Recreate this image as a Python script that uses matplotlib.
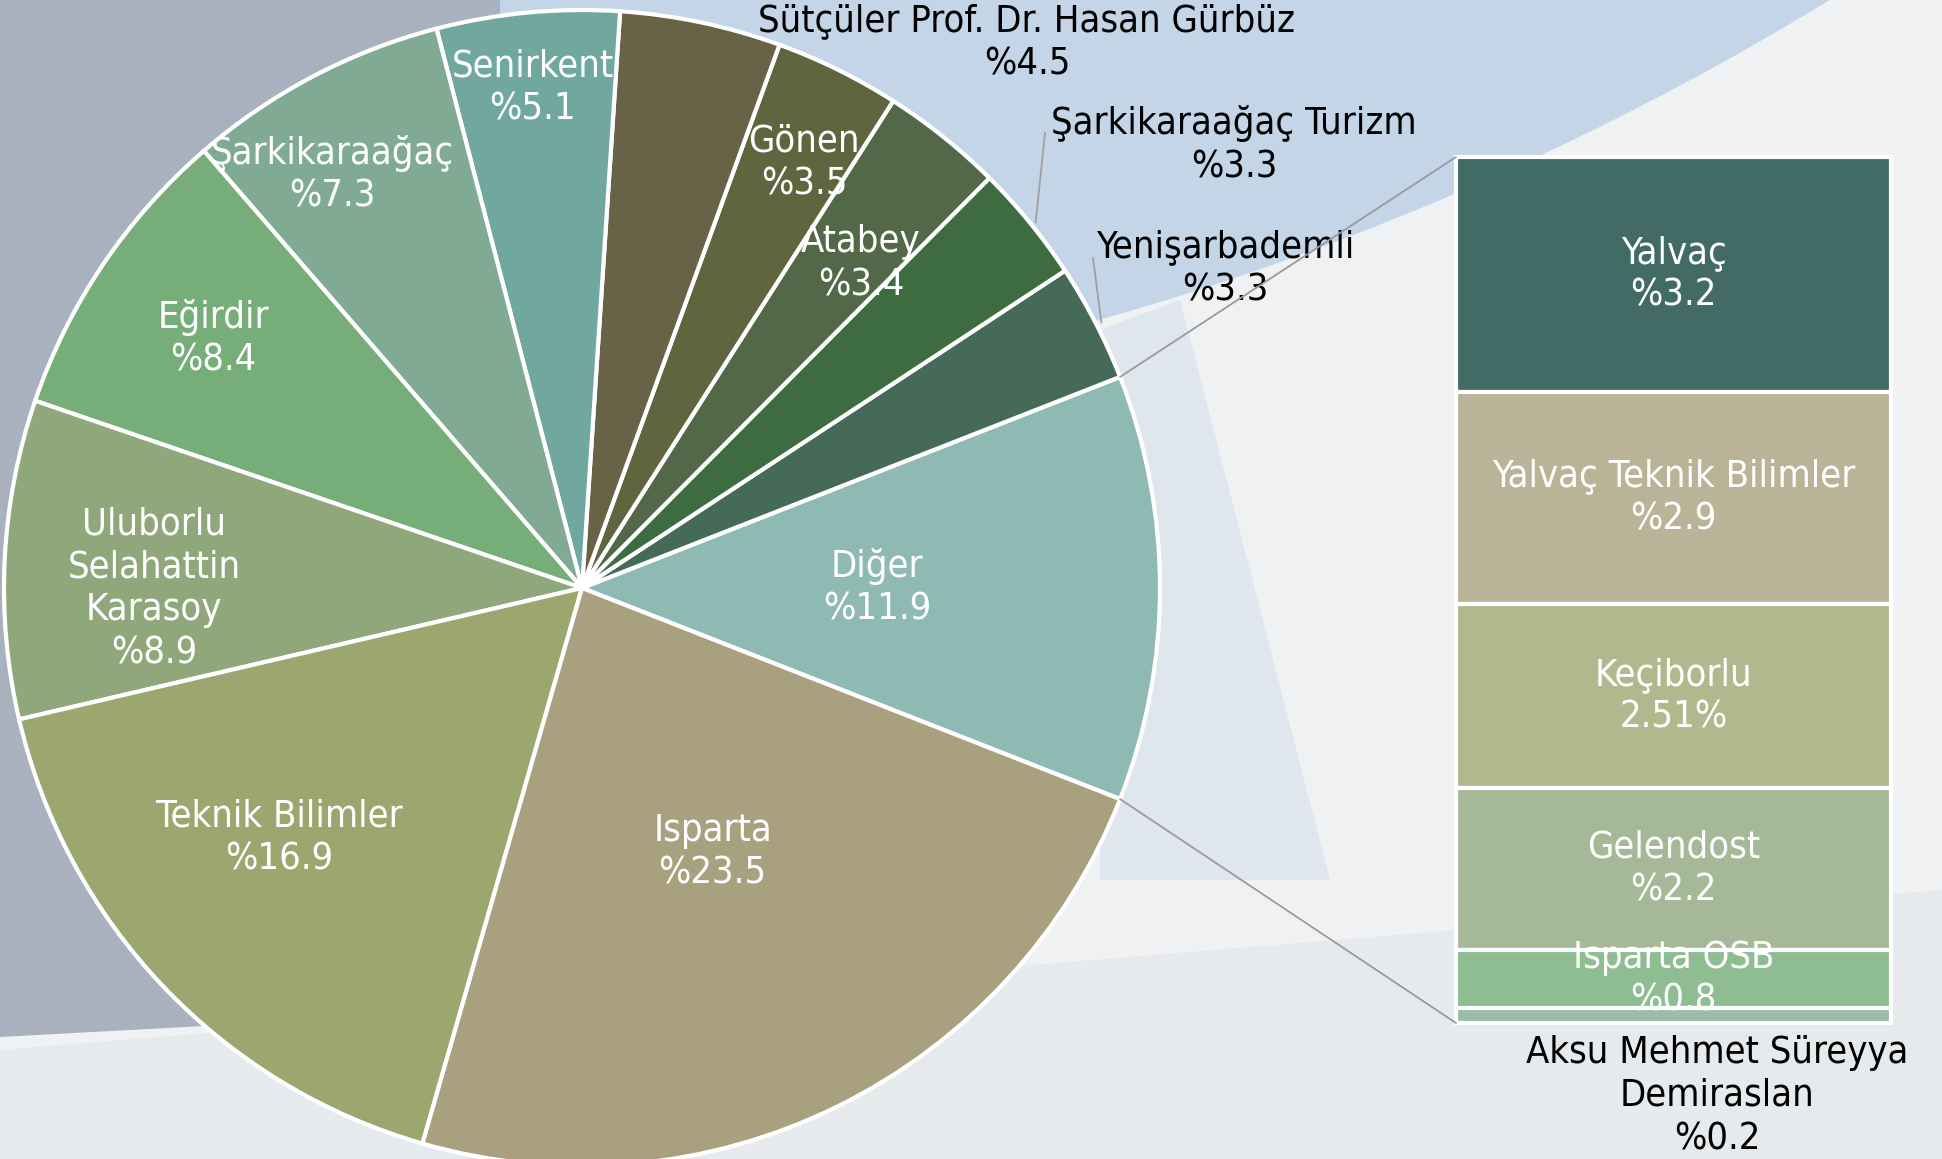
import numpy as np
import matplotlib.pyplot as plt
from matplotlib.patches import Circle, Polygon
from matplotlib.patches import ConnectionPatch

plt.rcParams['font.family'] = ['DejaVu Sans']
plt.rcParams['font.stretch'] = 'condensed'

# pie slices (the last one, "Diğer", is split out into the bar)
pie_names = ["Isparta", "Teknik Bilimler", "Uluborlu\nSelahattin\nKarasoy", "Eğirdir",
             "Şarkikaraağaç", "Senirkent", "Sütçüler Prof. Dr. Hasan Gürbüz", "Gönen",
             "Atabey", "Şarkikaraağaç Turizm", "Yenişarbademli", "Diğer"]
pie_values = [23.5, 16.9, 8.9, 8.4, 7.3, 5.1, 4.5, 3.5, 3.4, 3.3, 3.3, 11.9]
pie_colors = ["#a9a07f", "#9ca770", "#8fa77b", "#77ad78", "#80aa94", "#70a89f",
              "#686247", "#5e653f", "#526848", "#3d6c40", "#466a58", "#8fb9b3"]

# breakdown of "Diğer"
bar_names = ["Yalvaç", "Yalvaç Teknik Bilimler", "Keçiborlu", "Gelendost",
             "Isparta OSB", "Aksu Mehmet Süreyya\nDemiraslan"]
bar_values = [3.2, 2.9, 2.51, 2.2, 0.8, 0.2]
bar_texts = ["%3.2", "%2.9", "2.51%", "%2.2", "%0.8", "%0.2"]
bar_colors = ["#416b64", "#bbb398", "#b0b98d", "#a5b898", "#8dbd90", "#9bbcab"]

FS = 27.3
LS = 1.25
W, H = 1942, 1159
fig = plt.figure(figsize=(W / 100, H / 100), dpi=100)
fig.patch.set_facecolor("#f0f1f3")
ax = fig.add_axes([0, 0, 1, 1])

# background
ax.add_patch(Circle((295, H + 2510), 2942, facecolor="#c3d5e7", edgecolor="none", zorder=0))
ax.add_patch(Polygon([(1100, H - 330), (1180, H - 300), (1330, H - 880), (1100, H - 880)],
                     closed=True, facecolor="#dfe6ed", edgecolor="none", zorder=0))
ax.add_patch(Polygon([(0, H), (500, H), (500, H - 1010), (0, H - 1037)], closed=True,
                     facecolor="#a8b1bd", edgecolor="none", zorder=0))
ax.add_patch(Polygon([(0, 0), (W, 0), (W, H - 890), (0, H - 1050)], closed=True,
                     facecolor="#e7eaed", edgecolor="none", zorder=0))

# order the wedges counter-clockwise starting with "Diğer" centred on the right
order = [11, 10, 9, 8, 7, 6, 5, 4, 3, 2, 1, 0]
vals = [pie_values[i] for i in order]
cols = [pie_colors[i] for i in order]
cx, cy, R = 582, H - 588, 578
start = -pie_values[-1] / sum(pie_values) * 360 / 2
wedges, _ = ax.pie(vals, colors=cols, startangle=start, counterclock=True,
                   center=(cx, cy), radius=R,
                   wedgeprops=dict(edgecolor="white", linewidth=3))

# inside labels
label_r = {0: 0.51, 1: 0.68, 2: 0.74, 3: 0.77, 4: 0.835, 5: 0.87, 7: 0.83, 8: 0.74, 11: 0.51}
label_shift = {1: -4, 2: 3, 4: 3.4, 5: 0.2, 7: -1.3, 8: -2}
for w, i in zip(wedges, order):
    mid = (w.theta1 + w.theta2) / 2
    if i in label_r:
        a = np.deg2rad(mid + label_shift.get(i, 0))
        r = label_r[i] * R
        ax.text(cx + r * np.cos(a), cy + r * np.sin(a),
                f"{pie_names[i]}\n%{pie_values[i]}", color="white", fontsize=FS,
                ha="center", va="center", linespacing=LS)

# outside labels
w_by = {i: w for w, i in zip(wedges, order)}
ax.text(1027, H - 43, f"{pie_names[6]}\n%{pie_values[6]}", fontsize=FS, ha="center",
        va="center", linespacing=LS)
for i, (tx, ty), (lx, ly) in [(9, (1234, H - 145), (1045, H - 133)),
                              (10, (1225, H - 269), (1093, H - 258))]:
    w = w_by[i]
    a = np.deg2rad((w.theta1 + w.theta2) / 2)
    px, py = cx + R * np.cos(a), cy + R * np.sin(a)
    ax.text(tx, ty, f"{pie_names[i]}\n%{pie_values[i]}", fontsize=FS, ha="center",
            va="center", linespacing=LS)
    ax.plot([lx, px + 6], [ly, py], color="#a0a0a0", lw=1.3)

ax.set_xlim(0, W)
ax.set_ylim(0, H)
ax.set_aspect("auto")
ax.axis("off")

# bar of the "Diğer" slice
bax = fig.add_axes([1456 / W, 136 / H, 435 / W, 866 / H])
total = sum(bar_values)
bottoms = total - np.cumsum(bar_values)
bax.bar(0, bar_values, bottom=bottoms, width=1, color=bar_colors,
        edgecolor="white", linewidth=3, clip_on=False)
bax.set_xlim(-0.5, 0.5)
bax.set_ylim(0, total)
bax.axis("off")
for k in range(len(bar_values) - 1):
    bax.text(0, bottoms[k] + bar_values[k] / 2, f"{bar_names[k]}\n{bar_texts[k]}",
             color="white", fontsize=FS, ha="center", va="center", linespacing=LS)
ax.text(1717, H - 1096, f"{bar_names[-1]}\n{bar_texts[-1]}", fontsize=FS, ha="center",
        va="center", linespacing=LS)

# connector lines
d = w_by[11]
for th, yb in [(d.theta2, total), (d.theta1, 0)]:
    a = np.deg2rad(th)
    con = ConnectionPatch(xyA=(cx + R * np.cos(a), cy + R * np.sin(a)), coordsA=ax.transData,
                          xyB=(-0.5, yb), coordsB=bax.transData, color="#9a9a9a", lw=1.3)
    fig.add_artist(con)

fig.savefig("out.png", dpi=100, facecolor=fig.get_facecolor())
